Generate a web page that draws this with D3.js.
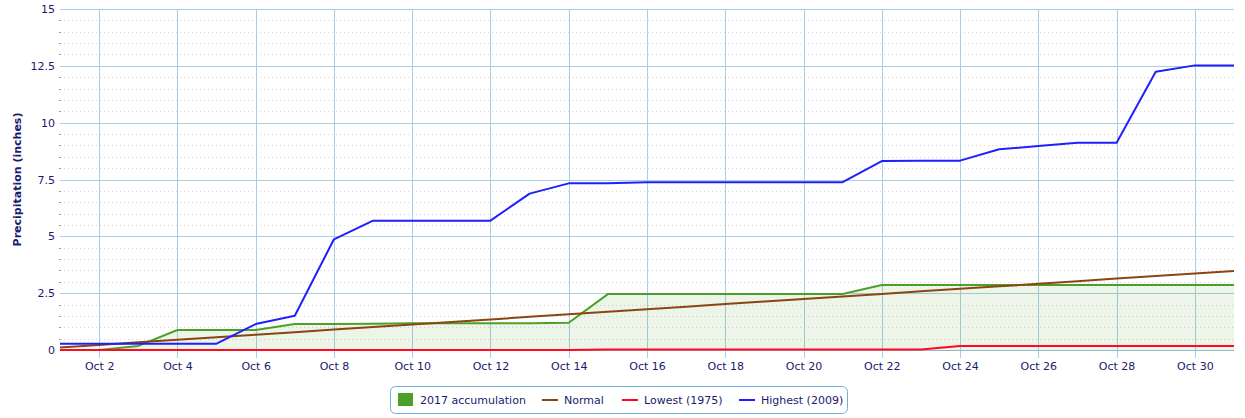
<!DOCTYPE html>
<html><head><meta charset="utf-8">
<script src="https://cdn.jsdelivr.net/npm/d3@7"></script>
<style>
body{margin:0;background:#fff;}
text{font-family:"DejaVu Sans",Verdana,sans-serif;}
</style></head>
<body><svg id="c" width="1245" height="418"></svg>
<script>
const days = d3.range(1, 32);
const tickDays = [2,4,6,8,10,12,14,16,18,20,22,24,26,28,30];
const tickLabels = tickDays.map(d => "Oct " + d);
const yTicks = [0, 2.5, 5, 7.5, 10, 12.5, 15];
const accum2017 = [0,0,0.18,0.88,0.88,0.88,1.14,1.14,1.16,1.18,1.18,1.18,1.18,1.2,2.46,2.46,2.46,2.46,2.46,2.46,2.46,2.86,2.86,2.86,2.86,2.86,2.86,2.86,2.86,2.86,2.86];
const normal = [0.11,0.22,0.34,0.45,0.56,0.67,0.78,0.90,1.01,1.12,1.23,1.34,1.46,1.57,1.68,1.79,1.90,2.02,2.13,2.24,2.35,2.46,2.58,2.69,2.80,2.91,3.02,3.14,3.25,3.36,3.47];
const lowest1975 = [0,0,0,0,0,0,0,0,0,0,0,0,0,0,0.02,0.02,0.02,0.02,0.02,0.02,0.02,0.02,0.02,0.18,0.18,0.18,0.18,0.18,0.18,0.18,0.18];
const highest2009 = [0.27,0.27,0.27,0.27,0.28,1.14,1.51,4.87,5.69,5.69,5.69,5.69,6.88,7.33,7.33,7.38,7.38,7.38,7.38,7.38,7.38,8.31,8.33,8.33,8.83,8.97,9.12,9.12,12.24,12.52,12.52];
const seriesNames = ["2017 accumulation", "Normal", "Lowest (1975)", "Highest (2009)"];
const colors = {acc:"#4ca02a", normal:"#8b4513", low:"#ff0a1e", high:"#1f1fff"};

const svg = d3.select("#c");
const L = 60, R = 1234, T = 9, B = 350;
const x = d3.scaleLinear().domain([1, 31]).range([L, R]);
const y = d3.scaleLinear().domain([0, 15]).range([B, T]);
const textColor = "#1a1a6e";

// minor dotted grid
const minor = d3.range(0.5, 15, 0.5).filter(v => v % 2.5 !== 0);
svg.append("g").selectAll("line").data(minor).join("line")
  .attr("x1", L).attr("x2", R).attr("y1", d => Math.round(y(d)) + 0.5).attr("y2", d => Math.round(y(d)) + 0.5)
  .attr("stroke", "#d6d6d6").attr("stroke-width", 1).attr("stroke-dasharray", "1,3");
svg.append("g").selectAll("line").data(minor).join("line")
  .attr("x1", L - 1).attr("x2", L + 1).attr("y1", d => Math.round(y(d)) + 0.5).attr("y2", d => Math.round(y(d)) + 0.5)
  .attr("stroke", "#999").attr("stroke-width", 1);

// y axis grid (major)
const yAxis = d3.axisLeft(y).tickValues(yTicks).tickSize(-(R - L)).tickPadding(5)
  .tickFormat(d => d === 0 ? "0" : String(d));
const gy = svg.append("g").attr("transform", `translate(${L},0)`).call(yAxis);
gy.select(".domain").remove();
gy.selectAll(".tick line").attr("stroke", "#a9cde3").attr("shape-rendering", "crispEdges");
gy.selectAll(".tick text").attr("fill", textColor).style("font-size", "11px")
  .attr("font-family", "DejaVu Sans, Verdana, sans-serif");

// x axis grid
const xAxis = d3.axisBottom(x).tickValues(tickDays).tickSize(-(B - T)).tickPadding(12)
  .tickFormat((d, i) => tickLabels[i]);
const gx = svg.append("g").attr("transform", `translate(0,${B})`).call(xAxis);
gx.select(".domain").remove();
gx.selectAll(".tick line").attr("stroke", "#a9cde3").attr("y2", -(B - T)).attr("y1", 8)
  .attr("shape-rendering", "crispEdges");
gx.selectAll(".tick text").attr("fill", textColor).style("font-size", "11px")
  .attr("font-family", "DejaVu Sans, Verdana, sans-serif");

// area under 2017 accumulation
const data = days.map((d, i) => ({d, acc: accum2017[i], normal: normal[i], low: lowest1975[i], high: highest2009[i]}));
svg.append("path").datum(data)
  .attr("d", d3.area().x(p => x(p.d)).y0(y(0)).y1(p => y(p.acc)))
  .attr("fill", "#4ca02a").attr("fill-opacity", 0.1);

// x axis line
svg.append("line").attr("x1", L).attr("x2", R).attr("y1", B + 0.5).attr("y2", B + 0.5)
  .attr("stroke", "#8fb8d6").attr("stroke-width", 1);

const lineGen = key => d3.line().x(p => x(p.d)).y(p => y(p[key]));
[["acc", colors.acc], ["normal", colors.normal], ["low", colors.low], ["high", colors.high]].forEach(([k, c]) => {
  svg.append("path").datum(data).attr("d", lineGen(k))
    .attr("fill", "none").attr("stroke", c).attr("stroke-width", 2).attr("stroke-linejoin", "round");
});

// y title
svg.append("text").attr("transform", `translate(21,${(T + B) / 2}) rotate(-90)`)
  .attr("text-anchor", "middle").attr("fill", textColor)
  .style("font-size", "11px").style("font-weight", "bold").text("Precipitation (inches)");

// legend
const lg = svg.append("g");
lg.append("rect").attr("x", 390.5).attr("y", 386.5).attr("width", 457).attr("height", 27).attr("rx", 5)
  .attr("fill", "#fff").attr("stroke", "#6eb0e0").attr("stroke-width", 1);
const items = [
  {sym: "rect", c: colors.acc, sx: 398, tx: 420},
  {sym: "line", c: colors.normal, sx: 542, tx: 564},
  {sym: "line", c: colors.low, sx: 622, tx: 644},
  {sym: "line", c: colors.high, sx: 739, tx: 761}
];
items.forEach((it, i) => {
  if (it.sym === "rect") {
    lg.append("rect").attr("x", it.sx).attr("y", 393).attr("width", 15).attr("height", 13).attr("fill", it.c);
  } else {
    lg.append("line").attr("x1", it.sx).attr("x2", it.sx + 16).attr("y1", 400).attr("y2", 400)
      .attr("stroke", it.c).attr("stroke-width", 2);
  }
  lg.append("text").attr("x", it.tx).attr("y", 404).attr("fill", textColor)
    .style("font-size", "11px").text(seriesNames[i]);
});
</script></body></html>
